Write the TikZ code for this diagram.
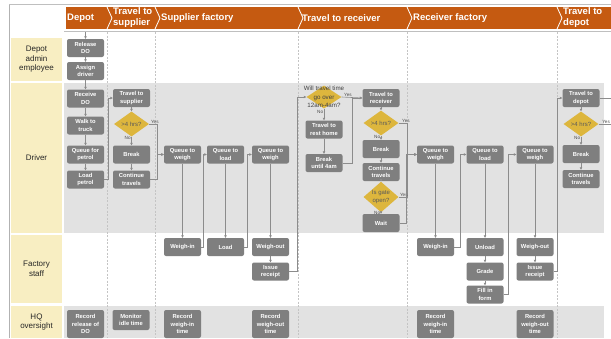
\documentclass[tikz,border=0pt]{standalone}
\usepackage{fontspec}
\setmainfont{Liberation Sans}
\usetikzlibrary{arrows.meta,shapes.geometric}
\definecolor{hdrorange}{HTML}{C55A11}
\definecolor{lanecream}{HTML}{F8EEC2}
\definecolor{lanegray}{HTML}{E2E2E2}
\definecolor{taskgray}{HTML}{7F7F7F}
\definecolor{testyellow}{HTML}{DDB63D}
\definecolor{flowgray}{HTML}{8C8C8C}
\definecolor{sepgray}{HTML}{C4C4C4}
\begin{document}
\begin{tikzpicture}[x=1pt, y=-1pt, >={Triangle[length=2.4pt,width=2.4pt]},
		task/.style={rectangle, rounded corners=2pt, fill=taskgray, text=white,
			font=\bfseries\fontsize{5.8}{7.2}\selectfont, align=center, inner sep=0pt,
			minimum width=37pt, minimum height=18pt},
		tall/.style={task, minimum height=28pt},
		decision/.style={diamond, fill=testyellow, text=black!65, inner sep=0pt, align=center,
			font=\fontsize{6}{7.2}\selectfont, minimum width=35pt, minimum height=25pt},
		link/.style={->, flowgray, line width=0.6pt},
		yesno/.style={font=\fontsize{4.6}{5}\selectfont, text=black!70, inner sep=0.6pt},
		lanelabel/.style={rectangle, fill=lanecream, font=\fontsize{8}{9.5}\selectfont,
			align=center, text=black!85, minimum width=51pt, inner sep=0pt},
		phaselabel/.style={font=\bfseries\fontsize{9.5}{11}\selectfont, text=white,
			anchor=west, align=left, inner sep=0pt}]
		\useasboundingbox (0,0) rectangle (611,338);
		\fill[white] (0,0) rectangle (611,338);

		% frame and header band
		\draw[black!30, line width=0.8pt] (9,4) -- (9,338);
		\draw[black!25, line width=0.8pt] (9,4) -- (611,4);
		\fill[hdrorange] (66,7) rectangle (611,29);
		\foreach \b in {107,155,298,407,557}
			\draw[white, line width=0.8pt] (\b,7) -- (\b+5,18) -- (\b,29);
		\draw[black!25, line width=0.8pt] (64,31) -- (611,31);

		\node[phaselabel] (ph1) at (67,18) {Depot};
		\node[phaselabel] (ph2) at (113,18) {Travel to\\supplier};
		\node[phaselabel] (ph3) at (161,18) {Supplier factory};
		\node[phaselabel] (ph4) at (302,18) {Travel to receiver};
		\node[phaselabel] (ph5) at (413,18) {Receiver factory};
		\node[phaselabel] (ph6) at (563,18) {Travel to\\depot};

		% lanes
		\fill[lanegray] (64,83) rectangle (604,233);
		\fill[lanegray] (64,306) rectangle (604,338);
		\node[lanelabel, minimum height=43pt] (admin) at (36.5,59.5) {Depot\\admin\\employee};
		\node[lanelabel, minimum height=150pt] (driver) at (36.5,158) {Driver};
		\node[lanelabel, minimum height=68pt] (staff) at (36.5,269) {Factory\\staff};
		\node[lanelabel, minimum height=32pt] (hq) at (36.5,322) {HQ\\oversight};

		\foreach \b in {107,155,298,407,557}
			\draw[sepgray, dash pattern=on 2pt off 1.5pt, line width=0.5pt] (\b,32) -- (\b,338);

		% depot
		\node[task] (rel) at (85.5,48) {Release\\DO};
		\node[task] (asg) at (85.5,71) {Assign\\driver};
		\node[task] (rcv) at (85.5,98.5) {Receive\\DO};
		\node[task] (walk) at (85.5,125.5) {Walk to\\truck};
		\node[task] (qpet) at (85.5,154.5) {Queue for\\petrol};
		\node[task] (lpet) at (85.5,179.5) {Load\\petrol};
		\node[tall] (recrel) at (85.5,324) {Record\\release of\\DO};

		% travel to supplier
		\node[task] (tsup) at (131.5,98) {Travel to\\supplier};
		\node[decision] (hrsA) at (131.5,124) {>4 hrs?};
		\node[task] (brkA) at (131.5,154.5) {Break};
		\node[task] (contA) at (131.5,179.5) {Continue\\travels};
		\node[task, minimum height=20pt] (idle) at (131,320) {Monitor\\idle time};

		% supplier factory
		\node[task] (qwA) at (182.5,154.5) {Queue to\\weigh};
		\node[task] (qlA) at (225.5,154.5) {Queue to\\load};
		\node[task] (qwB) at (270.5,154.5) {Queue to\\weigh};
		\node[task] (winA) at (182.5,247) {Weigh-in};
		\node[task] (loadA) at (225.5,247) {Load};
		\node[task] (woutA) at (270.5,247) {Weigh-out};
		\node[task] (rcptA) at (270.5,271.5) {Issue\\receipt};
		\node[tall] (recwinA) at (182.5,324) {Record\\weigh-in\\time};
		\node[tall] (recwoutA) at (270.5,324) {Record\\weigh-out\\time};

		% travel to receiver
		\node[decision, minimum height=23pt,
			label={[font=\fontsize{6.2}{8.6}\selectfont, text=black!75, align=center]center:Will travel time\\go over\\12am-4am?}]
			(night) at (324,97) {};
		\node[task] (rest) at (324,129.5) {Travel to\\rest home};
		\node[task] (wait4) at (324,163) {Break\\until 4am};
		\node[task] (trcv) at (381,98) {Travel to\\receiver};
		\node[decision] (hrsB) at (381,123) {>4 hrs?};
		\node[task] (brkB) at (381,149) {Break};
		\node[task] (contB) at (381,172) {Continue\\travels};
		\node[decision, minimum height=23pt] (gate) at (381,197) {Is gate\\open?};
		\node[task] (waitB) at (381,223) {Wait};

		% receiver factory
		\node[task] (qwC) at (435.5,154.5) {Queue to\\weigh};
		\node[task] (qlC) at (485,154.5) {Queue to\\load};
		\node[task] (qwD) at (535,154.5) {Queue to\\weigh};
		\node[task] (winC) at (435.5,247) {Weigh-in};
		\node[task] (unld) at (485,247) {Unload};
		\node[task] (grade) at (485,271.5) {Grade};
		\node[task] (form) at (485,294.5) {Fill in\\form};
		\node[task] (woutC) at (535,247) {Weigh-out};
		\node[task] (rcptC) at (535,271.5) {Issue\\receipt};
		\node[tall] (recwinC) at (435.5,324) {Record\\weigh-in\\time};
		\node[tall] (recwoutC) at (535,324) {Record\\weigh-out\\time};

		% travel to depot
		\node[task] (tdep) at (581,98) {Travel to\\depot};
		\node[decision] (hrsC) at (581,124) {>4 hrs?};
		\node[task] (brkC) at (581,154) {Break};
		\node[task] (contC) at (581,179) {Continue\\travels};
		\coordinate (offA) at (611,98);
		\coordinate (offB) at (611,124);
		\coordinate (start) at (85.5,32);

		% flow
		\draw[link] (start) -- (rel);
		\draw[link] (rel) -- (asg);
		\draw[link] (asg) -- (rcv);
		\draw[link] (rcv) -- (walk);
		\draw[link] (walk) -- (qpet);
		\draw[link] (qpet) -- (lpet);
		\draw[link] (lpet.east) -- ++(4,0) |- (tsup.west);

		\draw[link] (tsup) -- (hrsA);
		\draw[link] (hrsA) -- node[yesno, anchor=east, pos=0.2]{No} (brkA);
		\draw[link] (brkA) -- (contA);
		\draw[link] (hrsA.east) -- node[yesno, above, pos=0.7]{Yes} ++(8,0) |- (qwA.west);
		\draw[link] (contA.east) -- ++(7,0) |- (qwA.west);

		\draw[link] (qwA) -- (winA);
		\draw[link] (winA.east) -- ++(2.5,0) |- (qlA.west);
		\draw[link] (qlA) -- (loadA);
		\draw[link] (loadA.east) -- ++(3.5,0) |- (qwB.west);
		\draw[link] (qwB) -- (woutA);
		\draw[link] (woutA) -- (rcptA);
		\draw[link] (rcptA.east) -- ++(8,0) |- (night.west);

		\draw[link] (night) -- node[yesno, anchor=east, pos=0.25]{No} (rest);
		\draw[link] (rest) -- (wait4);
		\draw[link] (night.east) -- node[yesno, above, pos=0.3]{Yes} (trcv.west);
		\draw[link] (wait4.east) -- ++(10,0) |- (trcv.west);
		\draw[link] (trcv) -- (hrsB);
		\draw[link] (hrsB) -- node[yesno, anchor=east, pos=0.2]{No} (brkB);
		\draw[link] (brkB) -- (contB);
		\draw[link] (contB) -- (gate);
		\draw[link] (gate) -- node[yesno, anchor=east, pos=0.3]{No} (waitB);
		\draw[link] (hrsB.east) -- node[yesno, above, pos=0.85]{Yes} ++(8.5,0) |- (qwC.west);
		\draw[link] (gate.east) -- node[yesno, above, pos=0.6]{Yes} ++(8.5,0) |- (qwC.west);
		\draw[link] (waitB.east) -- ++(7,0) |- (qwC.west);

		\draw[link] (qwC) -- (winC);
		\draw[link] (winC.east) -- ++(6,0) |- (qlC.west);
		\draw[link] (qlC) -- (unld);
		\draw[link] (unld) -- (grade);
		\draw[link] (grade) -- (form);
		\draw[link] (form.east) -- ++(5,0) |- (qwD.west);
		\draw[link] (qwD) -- (woutC);
		\draw[link] (woutC) -- (rcptC);
		\draw[link] (rcptC.east) -- ++(4,0) |- (tdep.west);

		\draw[link] (tdep) -- (hrsC);
		\draw[link] (hrsC) -- node[yesno, anchor=east, pos=0.2]{No} (brkC);
		\draw[link] (brkC) -- (contC);
		\draw[link, -] (hrsC.east) -- node[yesno, above, pos=0.6]{Yes} (offB);
		\draw[link, -] (tdep.east) -- (offA);
	\end{tikzpicture}
\end{document}
